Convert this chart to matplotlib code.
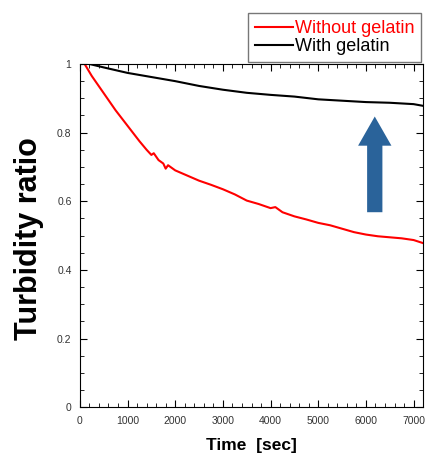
import matplotlib
matplotlib.use("Agg")
import matplotlib.pyplot as plt
from matplotlib.ticker import MultipleLocator, FuncFormatter

plt.rcParams['font.family'] = ['Liberation Sans', 'DejaVu Sans']

# values
t_without = [100, 250, 500, 750, 1000, 1250, 1400, 1500, 1550, 1650, 1750, 1800, 1850,
             2000, 2250, 2500, 2750, 3000, 3250, 3500, 3750, 4000, 4100, 4250, 4500,
             4750, 5000, 5250, 5500, 5750, 6000, 6250, 6500, 6750, 7000, 7200]
r_without = [1.0, 0.965, 0.915, 0.865, 0.82, 0.775, 0.75, 0.735, 0.74, 0.72, 0.71, 0.695, 0.705,
             0.69, 0.675, 0.66, 0.648, 0.635, 0.62, 0.602, 0.592, 0.58, 0.583, 0.568, 0.556,
             0.547, 0.537, 0.53, 0.52, 0.51, 0.503, 0.498, 0.495, 0.492, 0.487, 0.478]

t_with = [200, 500, 1000, 1500, 2000, 2500, 3000, 3500, 4000, 4500, 5000, 5500, 6000,
          6500, 7000, 7200]
r_with = [1.0, 0.99, 0.974, 0.962, 0.95, 0.936, 0.925, 0.916, 0.91, 0.905, 0.897, 0.893,
          0.889, 0.887, 0.883, 0.878]

fig = plt.figure(figsize=(4.27, 4.57), dpi=100)
ax = fig.add_axes([0.187, 0.109, 0.804, 0.751])

ax.plot(t_without, r_without, color='#ff0000', lw=1.5, label='Without gelatin')
ax.plot(t_with, r_with, color='black', lw=1.5, label='With gelatin')

# blue arrow
ax.annotate('', xy=(6185, 0.855), xytext=(6185, 0.56),
            arrowprops=dict(arrowstyle='simple,head_length=2.1,head_width=2.4,tail_width=1.1',
                            mutation_scale=10, color='#2a639a', lw=0))

ax.set_xlim(0, 7200)
ax.set_ylim(0, 1)
ax.xaxis.set_major_locator(MultipleLocator(1000))
ax.xaxis.set_minor_locator(MultipleLocator(200))
ax.yaxis.set_major_locator(MultipleLocator(0.2))
ax.yaxis.set_minor_locator(MultipleLocator(0.05))
ax.yaxis.set_major_formatter(FuncFormatter(lambda v, p: '%g' % round(v, 2)))
ax.tick_params(which='both', direction='in', top=True, right=True,
               labelsize=7.5, labelcolor='#333333', pad=6)
ax.tick_params(which='major', length=5)
ax.tick_params(which='minor', length=3)

ax.set_xlabel('Time  [sec]', fontsize=12.5, fontweight='bold', labelpad=9)
ax.set_ylabel('Turbidity ratio', fontsize=22, fontweight='bold')
ax.yaxis.set_label_coords(-0.105, 0.49)

leg = ax.legend(loc='lower right', bbox_to_anchor=(1.0, 1.0), borderaxespad=0.1,
                fontsize=13, handlelength=2.1, handletextpad=0.1, labelspacing=0.05,
                fancybox=False, frameon=True, borderpad=0.4)
leg.get_frame().set_edgecolor('#555555')
leg.get_frame().set_linewidth(1.0)
for txt, line in zip(leg.get_texts(), leg.get_lines()):
    txt.set_color(line.get_color())

fig.savefig('out.png', dpi=100)
